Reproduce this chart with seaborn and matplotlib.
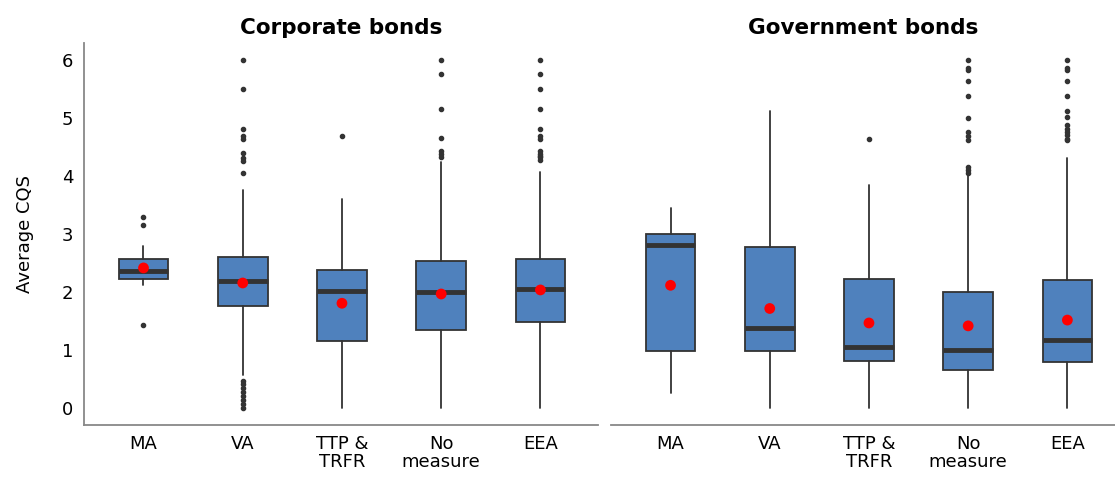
import numpy as np
import pandas as pd
import matplotlib
matplotlib.use("Agg")
import matplotlib.pyplot as plt
import seaborn as sns

categorias = ["MA", "VA", "TTP &\nTRFR", "No\nmeasure", "EEA"]

# Corporate bonds
corp_q1 = [2.22, 1.75, 1.15, 1.34, 1.48]
corp_med = [2.35, 2.19, 2.01, 2.00, 2.04]
corp_q3 = [2.57, 2.60, 2.37, 2.53, 2.56]
corp_wlo = [2.12, 0.56, 0.00, 0.00, 0.00]
corp_whi = [2.79, 3.75, 3.60, 4.23, 4.06]
corp_media = [2.41, 2.15, 1.80, 1.96, 2.03]
corp_out = [
    [3.29, 3.15, 1.43],
    [6.0, 5.5, 4.80, 4.68, 4.64, 4.40, 4.30, 4.26, 4.05,
     0.45, 0.40, 0.33, 0.27, 0.20, 0.13, 0.07, 0.0],
    [4.68],
    [6.0, 5.75, 5.16, 4.66, 4.43, 4.37, 4.33],
    [6.0, 5.75, 5.50, 5.16, 4.80, 4.68, 4.64, 4.43, 4.38, 4.35, 4.32, 4.28],
]

# Government bonds
gov_q1 = [0.97, 0.98, 0.81, 0.65, 0.79]
gov_med = [2.81, 1.38, 1.05, 1.00, 1.16]
gov_q3 = [2.99, 2.77, 2.22, 2.00, 2.21]
gov_wlo = [0.25, 0.00, 0.00, 0.00, 0.00]
gov_whi = [3.44, 5.12, 3.84, 3.99, 4.31]
gov_media = [2.11, 1.71, 1.46, 1.41, 1.51]
gov_out = [
    [],
    [],
    [4.64],
    [6.0, 5.86, 5.82, 5.63, 5.37, 5.0, 4.75, 4.68, 4.61, 4.15, 4.10, 4.05],
    [6.0, 5.86, 5.82, 5.63, 5.37, 5.12, 5.02, 4.87, 4.80, 4.75, 4.70, 4.64, 4.61],
]

azul = "#4F81BD"
oscuro = "#333333"
gris = "#888888"

sns.set_style("white")
plt.rcParams["font.family"] = ["DejaVu Sans"]
plt.rcParams["text.color"] = "black"
plt.rcParams["axes.labelcolor"] = "black"
plt.rcParams["xtick.color"] = "black"
plt.rcParams["ytick.color"] = "black"


def panel(ax, q1, med, q3, wlo, whi, outs, medias, titulo):
    stats = []
    for i in range(len(categorias)):
        stats.append(dict(q1=q1[i], med=med[i], q3=q3[i], whislo=wlo[i],
                          whishi=whi[i], fliers=outs[i], label=categorias[i]))
    pos = np.arange(len(categorias))
    ax.bxp(stats, positions=pos, widths=0.5, patch_artist=True, showcaps=False,
           boxprops=dict(facecolor=azul, edgecolor=oscuro, linewidth=1.3),
           medianprops=dict(color=oscuro, linewidth=3.5, solid_capstyle="butt"),
           whiskerprops=dict(color=oscuro, linewidth=1.3),
           flierprops=dict(marker="o", markersize=3, markerfacecolor=oscuro,
                           markeredgecolor=oscuro))
    df = pd.DataFrame({"x": pos, "media": medias})
    sns.scatterplot(data=df, x="x", y="media", ax=ax, color="red", s=60,
                    edgecolor="none", zorder=5)
    ax.set_ylim(-0.3, 6.3)
    ax.set_xticks(pos)
    ax.set_xticklabels(categorias, fontsize=13, linespacing=0.95)
    ax.set_yticks(range(7))
    ax.set_title(titulo, fontsize=15.5, fontweight="bold", pad=6, color="black")
    ax.set_xlabel("")
    ax.tick_params(axis="both", length=4, color=gris, width=1.2, labelsize=13,
                   labelcolor="black")
    for s in ["top", "right"]:
        ax.spines[s].set_visible(False)
    ax.spines["bottom"].set_color(gris)
    ax.spines["bottom"].set_linewidth(1.3)


fig = plt.figure(figsize=(11.15, 4.78), dpi=100)
ax1 = fig.add_axes([0.0753, 0.111, 0.461, 0.800])
ax2 = fig.add_axes([0.548, 0.111, 0.452, 0.800])

panel(ax1, corp_q1, corp_med, corp_q3, corp_wlo, corp_whi, corp_out, corp_media,
      "Corporate bonds")
panel(ax2, gov_q1, gov_med, gov_q3, gov_wlo, gov_whi, gov_out, gov_media,
      "Government bonds")

ax1.set_xlim(-0.6, 4.58)
ax2.set_xlim(-0.6, 4.48)
ax1.spines["left"].set_color(gris)
ax1.spines["left"].set_linewidth(1.3)
ax1.set_ylabel("Average CQS", fontsize=13, labelpad=20)
ax2.spines["left"].set_visible(False)
ax2.set_ylabel("")
ax2.tick_params(axis="y", left=False, labelleft=False)

fig.savefig("out.png", dpi=100)
